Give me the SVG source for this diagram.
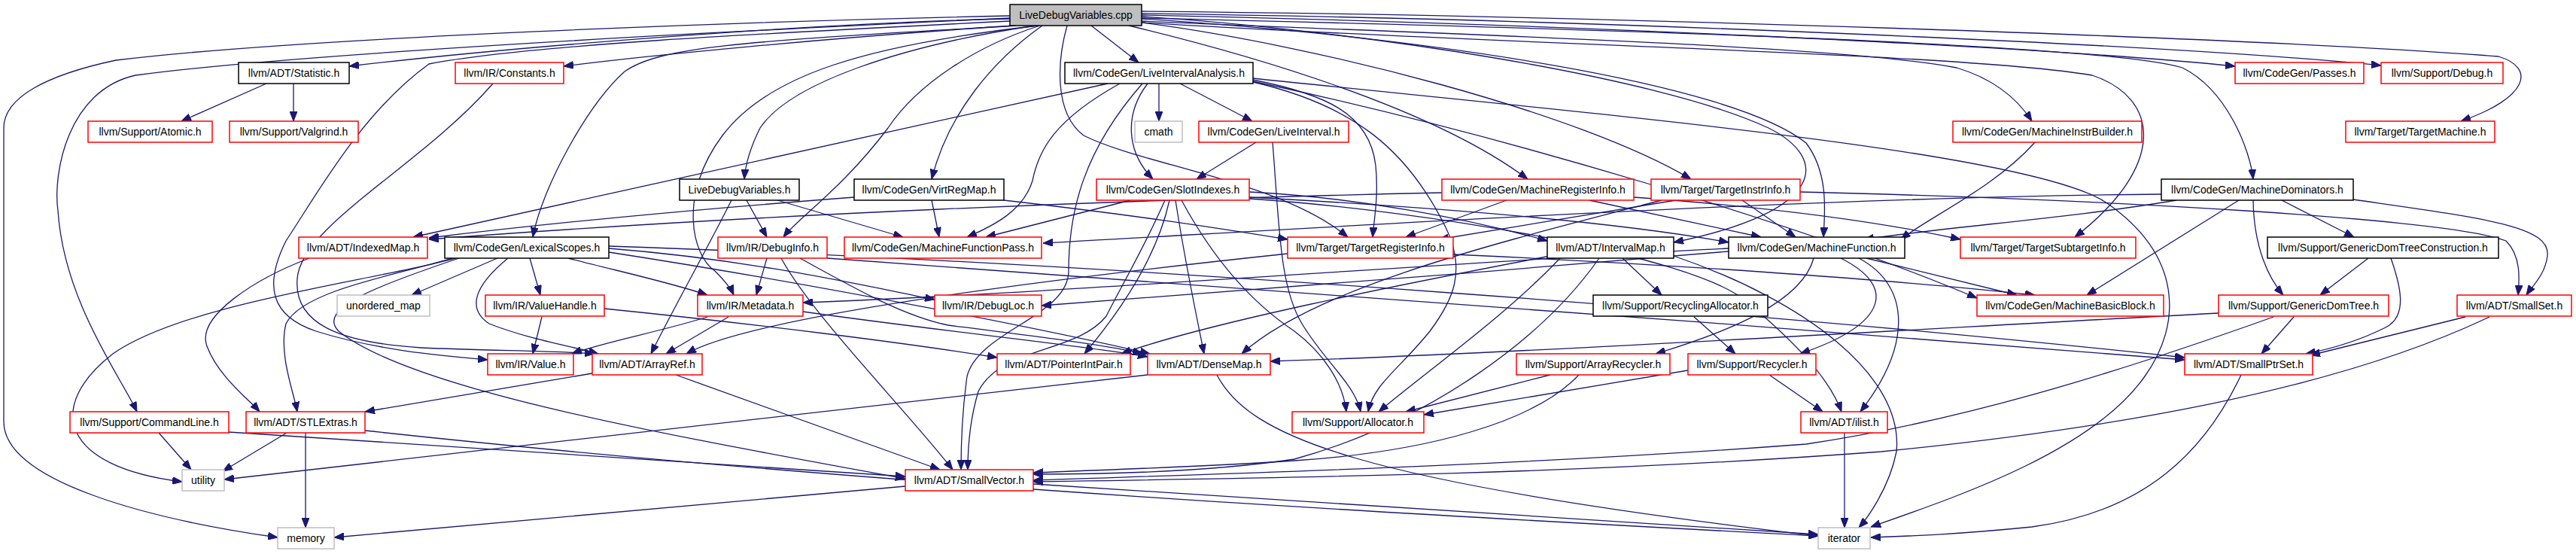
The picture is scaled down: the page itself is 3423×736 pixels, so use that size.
<svg xmlns="http://www.w3.org/2000/svg" width="3423" height="736" viewBox="0 0 3423 736">
<style>
.n rect{fill:#fff;stroke-width:1.5}
.r rect{stroke:#ff0000}
.b rect{stroke:#000}
.g rect{stroke:#bfbfbf}
.root rect{fill:#bfbfbf;stroke:#000}
.n text{font-family:"Liberation Sans",Arial,sans-serif;font-size:14px;text-anchor:middle;fill:#000}
#edges path{fill:none;stroke:#191970;stroke-width:1.3;marker-end:url(#ah)}
</style>
<defs>
<marker id="ah" viewBox="0 0 13 10" refX="13" refY="5" markerUnits="userSpaceOnUse" markerWidth="13" markerHeight="10" orient="auto">
<path d="M0,0 L13,5 L0,10 z" fill="#191970" stroke="#191970"/>
</marker>
</defs>
<rect width="3423" height="736" fill="#fff"/>
<g id="edges">
<path d="M1342,21 C1000,28 400,50 154,80 C60,100 5,130 5,170 L5,560 C5,640 200,690 369,714"/>
<path d="M1342,24 C1000,40 400,70 180,100 C90,120 70,230 77,280 C85,400 160,500 182,547"/>
<path d="M1342,25 C1100,30 700,60 464,88"/>
<path d="M1350,34 C1100,50 850,75 749,88"/>
<path d="M1342,28 C1000,45 700,60 570,85 C480,150 420,260 380,320 C350,380 360,420 420,440 C500,465 580,472 648,478"/>
<path d="M1350,34 C1000,55 880,60 830,95 C780,140 720,250 708,315"/>
<path d="M1382,34 C1300,60 1220,110 1180,170 C1120,250 1060,290 1041,315"/>
<path d="M1380,34 C1150,60 1020,100 960,180 C900,260 920,340 950,360 C965,375 972,385 975,392"/>
<path d="M1376,34 C1200,60 1050,110 1010,170 C995,200 990,225 989,238"/>
<path d="M1385,34 C1320,80 1260,150 1238,238"/>
<path d="M1450,34 L1513,83"/>
<path d="M1418,34 C1405,80 1400,150 1440,180 C1520,220 1700,240 1791,315"/>
<path d="M1517,22 C1800,40 2200,100 2350,170 C2430,210 2430,280 2224,322"/>
<path d="M1517,25 C1900,50 2300,110 2400,190 C2430,230 2425,280 2423,315"/>
<path d="M1500,34 C1650,70 1900,140 2030,238"/>
<path d="M1517,30 C1750,60 2100,150 2247,238"/>
<path d="M1517,28 C1900,45 2450,60 2600,90 C2650,105 2680,130 2700,161"/>
<path d="M1517,20 C2000,30 2700,60 2970,88"/>
<path d="M1517,18 C2100,25 2900,60 3164,87"/>
<path d="M1517,15 C2100,20 3000,50 3320,75 C3370,90 3360,130 3270,161"/>
<path d="M1517,24 C2200,40 2800,60 2900,90 C2960,120 2990,200 2994,238"/>
<path d="M1517,30 C2000,60 2600,70 2780,100 C2870,130 2880,220 2757,315"/>
<path d="M354,111 L241,161"/>
<path d="M390,111 L390,161"/>
<path d="M655,111 C560,220 400,300 395,370 C390,430 450,455 560,462 C650,466 740,466 790,470"/>
<path d="M1472,111 L549,315"/>
<path d="M1488,111 C1400,160 1380,200 1372,240 C1360,280 1320,300 1285,315"/>
<path d="M1518,111 C1440,200 1420,280 1420,360 C1420,420 1300,440 1285,500 C1278,550 1277,600 1277,624"/>
<path d="M1525,111 C1495,150 1495,200 1532,238"/>
<path d="M1540,111 L1540,161"/>
<path d="M1568,111 L1664,161"/>
<path d="M1665,106 C1760,125 1820,150 1828,220 C1832,260 1826,290 1824,315"/>
<path d="M1665,104 C2100,150 2700,200 2800,270 C2900,340 2900,430 2850,500 C2780,600 2600,660 2486,700"/>
<path d="M1665,109 C1800,140 1870,200 1920,300 C1950,360 1930,400 1900,440 C1860,490 1825,510 1818,547"/>
<path d="M1665,108 C2000,180 2400,300 2627,396"/>
<path d="M1669,189 L1590,238"/>
<path d="M1691,189 C1700,300 1700,380 1730,430 C1760,480 1800,510 1808,547"/>
<path d="M972,266 C940,330 900,400 865,470"/>
<path d="M992,266 L1019,315"/>
<path d="M1033,266 L1200,315"/>
<path d="M1135,262 C900,280 700,300 570,316"/>
<path d="M1238,266 L1248,315"/>
<path d="M1334,266 C1500,285 1600,300 1711,318"/>
<path d="M1502,266 L1310,315"/>
<path d="M1548,266 C1520,330 1490,380 1470,420 C1430,470 1330,460 1300,520 C1288,560 1286,600 1286,624"/>
<path d="M1554,266 C1540,330 1500,400 1441,470"/>
<path d="M1562,266 C1575,350 1590,420 1600,470"/>
<path d="M1570,266 C1610,340 1660,400 1720,440 C1760,470 1785,510 1789,547"/>
<path d="M1660,255 C1800,262 1950,290 2056,320"/>
<path d="M1660,262 C1900,275 2150,295 2297,322"/>
<path d="M1660,264 C1900,280 2250,340 2320,400 C2380,450 2430,500 2447,547"/>
<path d="M1916,256 C1500,265 1000,285 570,318"/>
<path d="M2002,266 L1868,315"/>
<path d="M2112,266 L2340,315"/>
<path d="M2171,262 C2350,275 2500,295 2605,318"/>
<path d="M2227,266 L1912,318"/>
<path d="M2208,266 C2000,320 1750,380 1650,470"/>
<path d="M2315,266 L2386,315"/>
<path d="M2392,255 C2800,265 3250,290 3330,320 C3350,340 3348,370 3346,392"/>
<path d="M2704,189 C2650,250 2560,290 2526,318"/>
<path d="M2872,258 C2400,262 1800,300 1386,323"/>
<path d="M2892,266 C2750,290 2600,300 2477,318"/>
<path d="M2975,266 L2773,392"/>
<path d="M2994,266 C2995,330 3015,370 3034,392"/>
<path d="M3032,266 L3128,315"/>
<path d="M3127,265 C3300,290 3390,300 3385,340 C3382,365 3365,380 3357,392"/>
<path d="M3147,343 L3083,392"/>
<path d="M3177,343 C3190,380 3200,420 3170,435 C3130,455 3090,465 3064,470"/>
<path d="M2948,416 C2500,440 2000,470 1688,480"/>
<path d="M3048,421 L3005,470"/>
<path d="M3021,421 C2800,500 2600,560 2400,590 C2000,620 1600,630 1373,638"/>
<path d="M3276,421 L3070,472"/>
<path d="M3308,421 C3100,520 2800,570 2500,600 C2100,630 1700,635 1373,640"/>
<path d="M2978,498 C2930,600 2850,680 2700,700 C2600,710 2540,712 2486,714"/>
<path d="M2156,343 L2208,392"/>
<path d="M2073,343 C2000,420 1900,490 1832,547"/>
<path d="M2125,343 C2050,450 1900,560 1720,610 C1600,628 1450,630 1373,630"/>
<path d="M2060,340 C1850,380 1600,430 1490,470"/>
<path d="M2224,340 C2400,400 2530,500 2520,600 C2510,650 2480,690 2470,701"/>
<path d="M2251,421 L2306,470"/>
<path d="M2060,498 L1868,547"/>
<path d="M2098,498 C2040,560 1900,600 1720,612 C1600,620 1450,625 1373,628"/>
<path d="M2243,492 L1892,551"/>
<path d="M2351,498 L2422,547"/>
<path d="M2451,575 L2451,701"/>
<path d="M2410,343 C2395,400 2300,440 2200,470"/>
<path d="M2446,343 C2520,380 2510,430 2392,470"/>
<path d="M2470,343 C2540,380 2540,460 2472,547"/>
<path d="M2480,343 L2680,392"/>
<path d="M2297,334 C2000,360 1600,390 1384,406"/>
<path d="M2297,330 C1900,350 1400,390 1067,402"/>
<path d="M1711,337 C1400,370 1000,420 912,470"/>
<path d="M1931,338 C2200,350 2500,370 2704,392"/>
<path d="M1019,343 L1005,392"/>
<path d="M1038,343 C1080,420 1200,540 1266,624"/>
<path d="M1063,343 C1130,380 1200,420 1260,432 C1400,450 1480,460 1518,470"/>
<path d="M1099,343 C1500,370 2300,430 2903,478"/>
<path d="M661,343 L547,392"/>
<path d="M704,343 L718,392"/>
<path d="M755,343 C820,360 890,375 940,392"/>
<path d="M675,343 C630,380 620,410 650,430 C700,450 760,460 795,470"/>
<path d="M809,330 C1000,345 1150,380 1242,398"/>
<path d="M809,335 C1100,380 1400,440 1528,470"/>
<path d="M809,327 C1500,350 2400,420 2903,475"/>
<path d="M610,343 C500,380 420,410 450,440 C550,520 900,580 1203,636"/>
<path d="M600,343 C520,370 250,400 150,470 C60,540 80,620 242,640"/>
<path d="M605,343 C500,370 400,390 380,430 C370,470 390,520 395,547"/>
<path d="M411,343 C340,370 260,420 275,460 C290,500 330,530 345,547"/>
<path d="M720,421 L708,470"/>
<path d="M803,410 C1000,430 1200,455 1325,475"/>
<path d="M940,421 C880,440 800,455 760,470"/>
<path d="M968,421 L885,470"/>
<path d="M1067,414 C1250,440 1450,460 1525,474"/>
<path d="M787,496 L485,547"/>
<path d="M898,498 L1249,624"/>
<path d="M211,575 L254,624"/>
<path d="M304,574 L1203,633"/>
<path d="M381,575 L296,626"/>
<path d="M406,575 L406,701"/>
<path d="M485,572 C1200,650 2000,690 2416,712"/>
<path d="M1525,498 L298,637"/>
<path d="M1617,498 C1660,580 1800,640 2416,712"/>
<path d="M1203,646 L444,714"/>
<path d="M1373,643 L2416,710"/>
</g>
<g id="n_root" class="n root"><rect x="1342" y="6" width="175" height="28"/><text x="1429.5" y="25">LiveDebugVariables.cpp</text></g>
<g id="n_stat" class="n b"><rect x="317" y="83" width="147" height="28"/><text x="390.5" y="102">llvm/ADT/Statistic.h</text></g>
<g id="n_const" class="n r"><rect x="605" y="83" width="144" height="28"/><text x="677" y="102">llvm/IR/Constants.h</text></g>
<g id="n_lia" class="n b"><rect x="1415" y="83" width="250" height="28"/><text x="1540" y="102">llvm/CodeGen/LiveIntervalAnalysis.h</text></g>
<g id="n_passes" class="n r"><rect x="2970" y="83" width="171" height="28"/><text x="3055.5" y="102">llvm/CodeGen/Passes.h</text></g>
<g id="n_debug" class="n r"><rect x="3164" y="83" width="162" height="28"/><text x="3245" y="102">llvm/Support/Debug.h</text></g>
<g id="n_atomic" class="n r"><rect x="117" y="161" width="165" height="28"/><text x="199.5" y="180">llvm/Support/Atomic.h</text></g>
<g id="n_valgrind" class="n r"><rect x="305" y="161" width="171" height="28"/><text x="390.5" y="180">llvm/Support/Valgrind.h</text></g>
<g id="n_cmath" class="n g"><rect x="1508" y="161" width="63" height="28"/><text x="1539.5" y="180">cmath</text></g>
<g id="n_li" class="n r"><rect x="1593" y="161" width="199" height="28"/><text x="1692.5" y="180">llvm/CodeGen/LiveInterval.h</text></g>
<g id="n_mib" class="n r"><rect x="2595" y="161" width="251" height="28"/><text x="2720.5" y="180">llvm/CodeGen/MachineInstrBuilder.h</text></g>
<g id="n_tm" class="n r"><rect x="3117" y="161" width="198" height="28"/><text x="3216" y="180">llvm/Target/TargetMachine.h</text></g>
<g id="n_ldvh" class="n b"><rect x="903" y="238" width="159" height="28"/><text x="982.5" y="257">LiveDebugVariables.h</text></g>
<g id="n_vrm" class="n b"><rect x="1135" y="238" width="199" height="28"/><text x="1234.5" y="257">llvm/CodeGen/VirtRegMap.h</text></g>
<g id="n_si" class="n r"><rect x="1457" y="238" width="203" height="28"/><text x="1558.5" y="257">llvm/CodeGen/SlotIndexes.h</text></g>
<g id="n_mri" class="n r"><rect x="1916" y="238" width="255" height="28"/><text x="2043.5" y="257">llvm/CodeGen/MachineRegisterInfo.h</text></g>
<g id="n_tii" class="n r"><rect x="2194" y="238" width="198" height="28"/><text x="2293" y="257">llvm/Target/TargetInstrInfo.h</text></g>
<g id="n_md" class="n b"><rect x="2872" y="238" width="255" height="28"/><text x="2999.5" y="257">llvm/CodeGen/MachineDominators.h</text></g>
<g id="n_im" class="n r"><rect x="397" y="315" width="171" height="28"/><text x="482.5" y="334">llvm/ADT/IndexedMap.h</text></g>
<g id="n_ls" class="n b"><rect x="591" y="315" width="218" height="28"/><text x="700" y="334">llvm/CodeGen/LexicalScopes.h</text></g>
<g id="n_di" class="n r"><rect x="954" y="315" width="145" height="28"/><text x="1026.5" y="334">llvm/IR/DebugInfo.h</text></g>
<g id="n_mfp" class="n r"><rect x="1122" y="315" width="262" height="28"/><text x="1253" y="334">llvm/CodeGen/MachineFunctionPass.h</text></g>
<g id="n_tri" class="n r"><rect x="1711" y="315" width="220" height="28"/><text x="1821" y="334">llvm/Target/TargetRegisterInfo.h</text></g>
<g id="n_ivm" class="n b"><rect x="2056" y="315" width="168" height="28"/><text x="2140" y="334">llvm/ADT/IntervalMap.h</text></g>
<g id="n_mf" class="n b"><rect x="2297" y="315" width="234" height="28"/><text x="2414" y="334">llvm/CodeGen/MachineFunction.h</text></g>
<g id="n_tsi" class="n r"><rect x="2605" y="315" width="233" height="28"/><text x="2721.5" y="334">llvm/Target/TargetSubtargetInfo.h</text></g>
<g id="n_gdtc" class="n b"><rect x="3013" y="315" width="307" height="28"/><text x="3166.5" y="334">llvm/Support/GenericDomTreeConstruction.h</text></g>
<g id="n_umap" class="n g"><rect x="448" y="392" width="123" height="28"/><text x="509.5" y="411">unordered_map</text></g>
<g id="n_vh" class="n r"><rect x="645" y="392" width="158" height="28"/><text x="724" y="411">llvm/IR/ValueHandle.h</text></g>
<g id="n_meta" class="n r"><rect x="927" y="392" width="140" height="28"/><text x="997" y="411">llvm/IR/Metadata.h</text></g>
<g id="n_dl" class="n r"><rect x="1242" y="392" width="142" height="28"/><text x="1313" y="411">llvm/IR/DebugLoc.h</text></g>
<g id="n_ra" class="n b"><rect x="2117" y="392" width="232" height="28"/><text x="2233" y="411">llvm/Support/RecyclingAllocator.h</text></g>
<g id="n_mbb" class="n r"><rect x="2627" y="392" width="248" height="28"/><text x="2751" y="411">llvm/CodeGen/MachineBasicBlock.h</text></g>
<g id="n_gdt" class="n r"><rect x="2948" y="392" width="226" height="28"/><text x="3061" y="411">llvm/Support/GenericDomTree.h</text></g>
<g id="n_sset" class="n r"><rect x="3265" y="392" width="152" height="28"/><text x="3341" y="411">llvm/ADT/SmallSet.h</text></g>
<g id="n_value" class="n r"><rect x="648" y="470" width="114" height="28"/><text x="705" y="489">llvm/IR/Value.h</text></g>
<g id="n_aref" class="n r"><rect x="787" y="470" width="146" height="28"/><text x="860" y="489">llvm/ADT/ArrayRef.h</text></g>
<g id="n_pip" class="n r"><rect x="1325" y="470" width="177" height="28"/><text x="1413.5" y="489">llvm/ADT/PointerIntPair.h</text></g>
<g id="n_dm" class="n r"><rect x="1525" y="470" width="163" height="28"/><text x="1606.5" y="489">llvm/ADT/DenseMap.h</text></g>
<g id="n_arec" class="n r"><rect x="2015" y="470" width="204" height="28"/><text x="2117" y="489">llvm/Support/ArrayRecycler.h</text></g>
<g id="n_rec" class="n r"><rect x="2243" y="470" width="170" height="28"/><text x="2328" y="489">llvm/Support/Recycler.h</text></g>
<g id="n_sps" class="n r"><rect x="2903" y="470" width="170" height="28"/><text x="2988" y="489">llvm/ADT/SmallPtrSet.h</text></g>
<g id="n_cl" class="n r"><rect x="93" y="547" width="211" height="28"/><text x="198.5" y="566">llvm/Support/CommandLine.h</text></g>
<g id="n_stl" class="n r"><rect x="327" y="547" width="158" height="28"/><text x="406" y="566">llvm/ADT/STLExtras.h</text></g>
<g id="n_alloc" class="n r"><rect x="1717" y="547" width="175" height="28"/><text x="1804.5" y="566">llvm/Support/Allocator.h</text></g>
<g id="n_ilist" class="n r"><rect x="2393" y="547" width="115" height="28"/><text x="2450.5" y="566">llvm/ADT/ilist.h</text></g>
<g id="n_util" class="n g"><rect x="242" y="624" width="56" height="28"/><text x="270" y="643">utility</text></g>
<g id="n_sv" class="n r"><rect x="1203" y="624" width="170" height="28"/><text x="1288" y="643">llvm/ADT/SmallVector.h</text></g>
<g id="n_mem" class="n g"><rect x="369" y="701" width="75" height="28"/><text x="406.5" y="720">memory</text></g>
<g id="n_iter" class="n g"><rect x="2416" y="701" width="69" height="28"/><text x="2450.5" y="720">iterator</text></g>
</svg>
